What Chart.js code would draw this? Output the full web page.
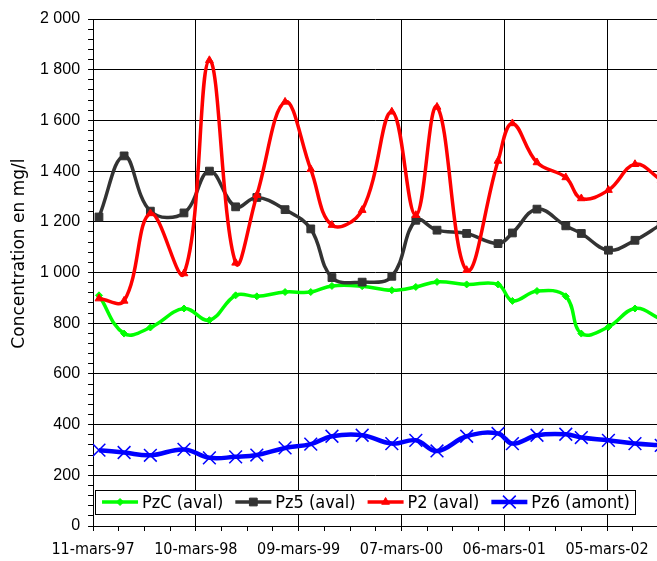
<!DOCTYPE html>
<html>
<head>
<meta charset="utf-8">
<script src="https://cdn.jsdelivr.net/npm/chart.js@4.4.0/dist/chart.umd.min.js"></script>
<style>
  html, body { margin: 0; padding: 0; background: #ffffff; }
  #c { display: block; }
</style>
</head>
<body>
<canvas id="c" width="657" height="561"></canvas>
<script>
// ---- Data ----
const dates = ['1997-04-01','1997-06-29','1997-09-30','1998-01-27','1998-04-27','1998-07-29',
  '1998-10-12','1999-01-20','1999-04-21','1999-07-05','1999-10-20','2000-02-02','2000-04-27',
  '2000-07-11','2000-10-24','2001-02-12','2001-04-04','2001-06-30','2001-10-10','2001-12-04',
  '2002-03-10','2002-06-12','2002-09-13'];
const pzC = [910, 759, 783, 858, 812, 910, 906, 923, 923, 947, 946, 930, 943, 963, 953, 953, 888, 927, 906, 759, 785, 858, 815];
const pz5 = [1219, 1460, 1242, 1235, 1400, 1259, 1296, 1248, 1172, 980, 962, 985, 1206, 1167, 1154, 1114, 1156, 1250, 1184, 1154, 1088, 1127, 1190];
const p2  = [897, 888, 1233, 996, 1837, 1038, 1305, 1673, 1407, 1187, 1246, 1634, 1226, 1653, 1009, 1440, 1588, 1434, 1375, 1292, 1325, 1427, 1365];
const pz6 = [299, 290, 279, 302, 269, 273, 280, 308, 323, 354, 358, 325, 338, 296, 354, 365, 325, 358, 362, 349, 338, 325, 318];
const seriesLabels = ['PzC (aval)', 'Pz5 (aval)', 'P2 (aval)', 'Pz6 (amont)'];

const xStart = '1997-03-11';
const xEnd = '2002-08-29';
const xMajorDates = ['1997-03-11','1998-03-10','1999-03-09','2000-03-07','2001-03-06','2002-03-05'];
const xMajorLabels = ['11-mars-97','10-mars-98','09-mars-99','07-mars-00','06-mars-01','05-mars-02'];
const yTickLabels = ['0','200','400','600','800','1 000','1 200','1 400','1 600','1 800','2 000'];
const yTitle = 'Concentration en mg/l';

// ---- helpers ----
const toUTC = s => { const [y, m, d] = s.split('-').map(Number); return Date.UTC(y, m - 1, d); };
const base = toUTC(xStart);
const dayOf = s => Math.round((toUTC(s) - base) / 86400000);
const xMax = dayOf(xEnd);
const xMajorDays = xMajorDates.map(dayOf);
const xTicks = [];
xMajorDays.forEach(d => { for (let k = 0; k < 4; k++) { const v = d + k * 91; if (v <= xMax) xTicks.push(v); } });
const yTicks = [];
for (let v = 0; v <= 2000; v += 40) yTicks.push(v);

const pts = arr => arr.map((v, i) => ({ x: dayOf(dates[i]), y: v }));

const labelFont = "'DejaVu Sans Condensed', 'Liberation Sans Narrow', 'DejaVu Sans', sans-serif";

const datasets = [
  { label: seriesLabels[0], data: pts(pzC), borderColor: '#00ff00', backgroundColor: '#00ff00',
    borderWidth: 3.5, pointStyle: 'rectRot', pointRadius: 3.5, pointBorderWidth: 1, order: 4 },
  { label: seriesLabels[1], data: pts(pz5), borderColor: '#333333', backgroundColor: '#333333',
    borderWidth: 3.5, pointStyle: 'rect', pointRadius: 5.5, pointBorderWidth: 1, order: 3 },
  { label: seriesLabels[2], data: pts(p2), borderColor: '#ff0000', backgroundColor: '#ff0000',
    borderWidth: 3.5, pointStyle: 'triangle', pointRadius: 4.5, pointBorderWidth: 1, order: 2 },
  { label: seriesLabels[3], data: pts(pz6), borderColor: '#0000ff', backgroundColor: '#0000ff',
    borderWidth: 4.5, pointStyle: 'crossRot', pointRadius: 9, pointBorderWidth: 1.5, order: 1 }
].map(d => Object.assign(d, { tension: 0.4, fill: false, pointBorderColor: d.borderColor, pointBackgroundColor: d.borderColor }));

// Legend drawn inside the plot area (bottom), as in the reference
const insideLegend = {
  id: 'insideLegend',
  afterDatasetsDraw(chart) {
    const { ctx, chartArea: a } = chart;
    const ds = chart.data.datasets;
    ctx.save();
    ctx.font = '18px ' + labelFont;
    const sample = 36, gapTxt = 4, gapItem = 12, padL = 7, padR = 5, h = 24;
    const widths = ds.map(d => ctx.measureText(d.label).width);
    const total = padL + padR + widths.reduce((s, w) => s + sample + gapTxt + w, 0) + gapItem * (ds.length - 1);
    const left = a.left + 2, bottom = a.bottom - 12, top = bottom - h;
    ctx.fillStyle = '#ffffff';
    ctx.fillRect(left, top, total, h);
    ctx.strokeStyle = '#000000';
    ctx.lineWidth = 1;
    ctx.strokeRect(Math.round(left) + 0.5, Math.round(top) + 0.5, Math.round(total), h);
    let x = left + padL;
    const cy = top + h / 2;
    ds.forEach((d, i) => {
      ctx.strokeStyle = d.borderColor;
      ctx.fillStyle = d.borderColor;
      ctx.lineWidth = d.borderWidth;
      ctx.beginPath();
      ctx.moveTo(x, cy);
      ctx.lineTo(x + sample, cy);
      ctx.stroke();
      ctx.lineWidth = d.pointBorderWidth;
      Chart.helpers.drawPoint(ctx, { pointStyle: d.pointStyle, radius: d.pointRadius, borderWidth: d.pointBorderWidth, rotation: 0 }, x + sample / 2, cy);
      ctx.fillStyle = '#000000';
      ctx.textBaseline = 'middle';
      ctx.textAlign = 'left';
      ctx.fillText(d.label, x + sample + gapTxt, cy + 1);
      x += sample + gapTxt + widths[i] + gapItem;
    });
    ctx.restore();
  }
};

new Chart(document.getElementById('c'), {
  type: 'line',
  data: { datasets },
  plugins: [insideLegend],
  options: {
    responsive: false,
    animation: false,
    devicePixelRatio: 1,
    layout: { autoPadding: false, padding: { top: 19, right: 0, bottom: -8.2, left: 0 } },
    plugins: { legend: { display: false }, tooltip: { enabled: false } },
    scales: {
      x: {
        type: 'linear',
        min: 0,
        max: xMax,
        afterBuildTicks: sc => { sc.ticks = xTicks.map(v => ({ value: v })); },
        ticks: {
          autoSkip: false, maxRotation: 0, minRotation: 0, padding: 9.5, color: '#000',
          font: { family: labelFont, size: 16 },
          callback: v => { const i = xMajorDays.indexOf(v); return i >= 0 ? xMajorLabels[i] : ''; }
        },
        grid: {
          color: c => (c.tick && xMajorDays.includes(c.tick.value)) ? '#000000' : 'rgba(0,0,0,0)',
          tickColor: '#000000', tickLength: 5, lineWidth: 1
        },
        border: { color: '#000000', width: 1 }
      },
      y: {
        type: 'linear',
        min: 0,
        max: 2000,
        afterBuildTicks: sc => { sc.ticks = yTicks.map(v => ({ value: v })); },
        ticks: {
          autoSkip: false, padding: 8, color: '#000',
          font: { family: "'Liberation Sans', Arial, sans-serif", size: 16 },
          callback: v => (v % 200 === 0) ? yTickLabels[v / 200] : ''
        },
        grid: {
          color: c => (c.tick && c.tick.value % 200 === 0) ? '#000000' : 'rgba(0,0,0,0)',
          tickColor: '#000000', tickLength: 5, lineWidth: 1
        },
        border: { color: '#000000', width: 1 },
        title: {
          display: true,
          text: '       ' + yTitle,
          color: '#000',
          font: { family: "'DejaVu Sans', sans-serif", size: 17 },
          padding: { top: 9, bottom: 2.6 }
        }
      }
    }
  }
});
</script>
</body>
</html>
